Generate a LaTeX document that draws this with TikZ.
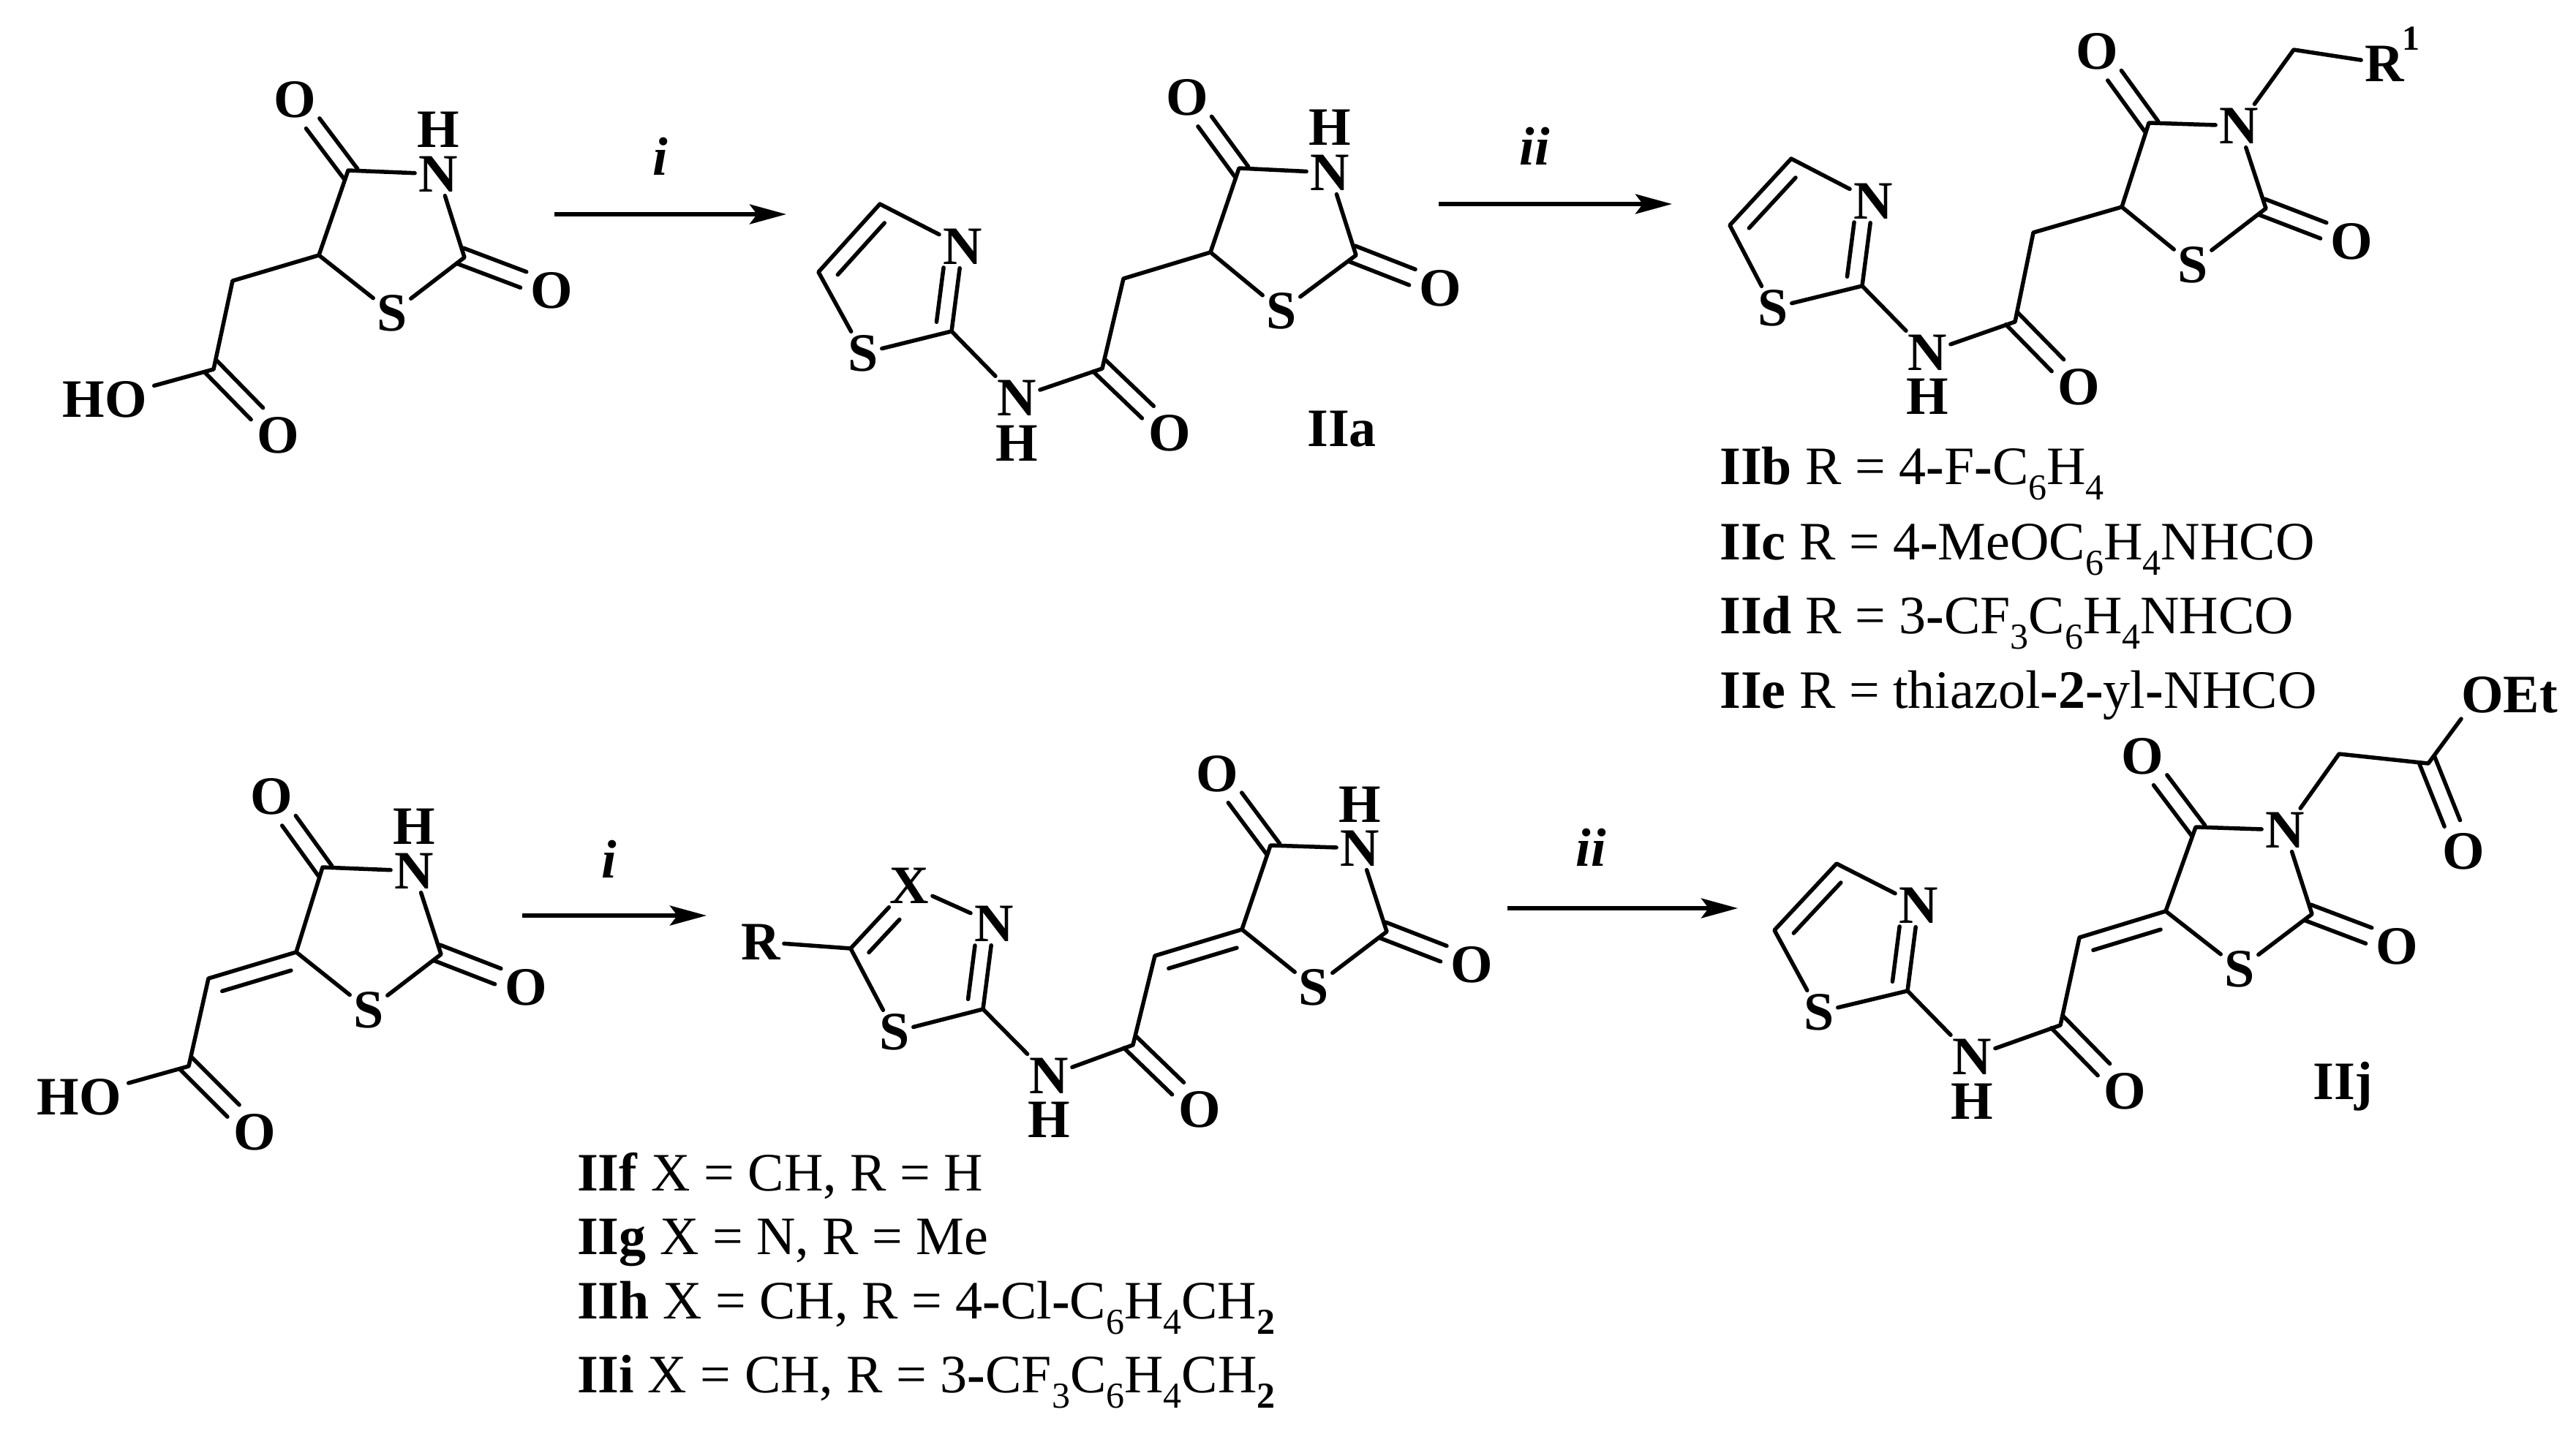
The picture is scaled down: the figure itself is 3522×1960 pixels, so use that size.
\documentclass[tikz,border=0pt]{standalone}
\usepackage{fontspec}
\setmainfont{Liberation Serif}
\usetikzlibrary{calc,arrows.meta}
\tikzset{
  bond/.style={line width=5.5pt,line cap=round,line join=round,black},
  rxn/.style={line width=5.5pt,black,-{Stealth[length=50pt,width=27pt,inset=10pt]}},
  atom/.style={font=\fontsize{74}{74}\selectfont\bfseries,inner sep=5pt,text height=49pt,text depth=0pt,anchor=center},
  atomw/.style={atom,inner xsep=10pt},
  supr/.style={font=\fontsize{48}{48}\selectfont\bfseries,inner sep=0pt,anchor=center},
  txt/.style={font=\fontsize{74}{74}\selectfont,inner sep=0pt,anchor=base west},
  reag/.style={font=\fontsize{74}{74}\selectfont\bfseries\itshape,inner sep=0pt,anchor=base},
}
\newcommand{\mysub}[1]{\raisebox{-21pt}{\fontsize{50}{50}\selectfont #1}}
% carbonyl double bond: two lines either side of the axis from carbon to oxygen
\newcommand{\cdbl}[2]{%
  \draw[bond,shorten <=-6pt,shorten >=41pt] ($(#1)!11.5pt!90:(#2)$) -- ($(#2)!11.5pt!-90:(#1)$);
  \draw[bond,shorten <=-6pt,shorten >=41pt] ($(#1)!11.5pt!-90:(#2)$) -- ($(#2)!11.5pt!90:(#1)$);
}
% second, inner line of a double bond: from, to, side, opposite side, shorten at both ends
\newcommand{\rdbl}[6]{%
  \draw[bond,shorten <=#5,shorten >=#6] ($(#1)!22pt!#3:(#2)$) -- ($(#2)!22pt!#4:(#1)$);
}
\begin{document}
\begin{tikzpicture}[x=1pt,y=-1pt]
\useasboundingbox[fill=white] (0,0) rectangle (3522,1960);

% ---------- acid 1
\node[atom] (aO4) at (403,136) {O};
\node[atom] (aN) at (599,238) {N};
\node[atom] (aH) at (599,177) {H};
\node[atom] (aO2) at (754,397) {O};
\node[atom] (aS) at (536,428) {S};
\node[atomw] (aHO) at (143,546) {HO};
\node[atom] (aO) at (380,595) {O};
\coordinate (aC4) at (476,233);
\coordinate (aC2) at (635,352);
\coordinate (aC5) at (436,349);
\coordinate (aCH) at (318,384);
\coordinate (aCO) at (292,505);
\draw[bond] (aC4) -- (aN) -- (aC2) -- (aS) -- (aC5) -- (aC4);
\draw[bond] (aC5) -- (aCH) -- (aCO) -- (aHO);
\cdbl{aC4}{aO4}
\cdbl{aC2}{aO2}
\cdbl{aCO}{aO}

% ---------- arrow i
\coordinate (r1s) at (758,293);
\coordinate (r1e) at (1075,293);
\draw[rxn] (r1s) -- (r1e);
\node[reag] (r1l) at (903,239) {i};

% ---------- IIa
\node[atom] (bS1) at (1180,483) {S};
\node[atom] (bN1) at (1316,337) {N};
\node[atom] (bNa) at (1390,544) {N};
\node[atom] (bHa) at (1390,606) {H};
\node[atom] (bOa) at (1599,592) {O};
\node[atom] (bS) at (1752,425) {S};
\node[atom] (bO2) at (1969,394) {O};
\node[atom] (bN) at (1818,236) {N};
\node[atom] (bH) at (1818,174) {H};
\node[atom] (bO4) at (1623,133) {O};
\coordinate (bC5t) at (1203,279);
\coordinate (bC4t) at (1119,372);
\coordinate (bC2t) at (1301,453);
\coordinate (bCO) at (1507,504);
\coordinate (bCH) at (1536,381);
\coordinate (bC5) at (1655,345);
\coordinate (bC2) at (1854,349);
\coordinate (bC4) at (1694,230);
\draw[bond] (bN1) -- (bC5t) -- (bC4t) -- (bS1) -- (bC2t) -- (bN1);
\rdbl{bC5t}{bC4t}{90}{-90}{15pt}{15pt}
\rdbl{bC2t}{bN1}{90}{-90}{10pt}{32pt}
\draw[bond] (bC2t) -- (bNa) -- (bCO) -- (bCH) -- (bC5);
\draw[bond] (bC5) -- (bS) -- (bC2) -- (bN) -- (bC4) -- (bC5);
\cdbl{bCO}{bOa}
\cdbl{bC2}{bO2}
\cdbl{bC4}{bO4}
\node[txt] (lIIa) at (1787,610) {\textbf{IIa}};

% ---------- arrow ii
\coordinate (r2s) at (1967,279);
\coordinate (r2e) at (2286,279);
\draw[rxn] (r2s) -- (r2e);
\node[reag] (r2l) at (2098,225) {ii};

% ---------- IIb-e
\node[atom] (cS1) at (2424,421) {S};
\node[atom] (cN1) at (2561,275) {N};
\node[atom] (cNa) at (2635,482) {N};
\node[atom] (cHa) at (2635,542) {H};
\node[atom] (cOa) at (2842,529) {O};
\node[atom] (cS) at (2998,362) {S};
\node[atom] (cO2) at (3215,330) {O};
\node[atom] (cN) at (3061,172) {N};
\node[atom] (cO4) at (2867,70) {O};
\node[atom] (cR) at (3260,87) {R};
\node[supr] (cR1) at (3296,53) {1};
\coordinate (cC5t) at (2449,217);
\coordinate (cC4t) at (2365,308);
\coordinate (cC2t) at (2546,391);
\coordinate (cCO) at (2755,440);
\coordinate (cCH) at (2780,318);
\coordinate (cC5) at (2901,283);
\coordinate (cC2) at (3098,285);
\coordinate (cC4) at (2938,168);
\coordinate (cCR) at (3136,68);
\draw[bond] (cN1) -- (cC5t) -- (cC4t) -- (cS1) -- (cC2t) -- (cN1);
\rdbl{cC5t}{cC4t}{90}{-90}{15pt}{15pt}
\rdbl{cC2t}{cN1}{90}{-90}{10pt}{32pt}
\draw[bond] (cC2t) -- (cNa) -- (cCO) -- (cCH) -- (cC5);
\draw[bond] (cC5) -- (cS) -- (cC2) -- (cN) -- (cC4) -- (cC5);
\draw[bond] (cN) -- (cCR) -- (cR);
\cdbl{cCO}{cOa}
\cdbl{cC2}{cO2}
\cdbl{cC4}{cO4}
\node[txt] (lIIb) at (2351,662) {\textbf{IIb} R = 4\textbf{-}F\textbf{-}C\mysub{6}H\mysub{4}};
\node[txt] (lIIc) at (2351,765) {\textbf{IIc} R = 4\textbf{-}MeOC\mysub{6}H\mysub{4}NHCO};
\node[txt] (lIId) at (2351,866) {\textbf{IId} R = 3\textbf{-}CF\mysub{3}C\mysub{6}H\mysub{4}NHCO};
\node[txt] (lIIe) at (2351,968) {\textbf{IIe} R = thiazol\textbf{-2-}yl\textbf{-}NHCO};

% ---------- acid 2
\node[atom] (dO4) at (371,1089) {O};
\node[atom] (dN) at (566,1191) {N};
\node[atom] (dH) at (566,1130) {H};
\node[atom] (dO2) at (719,1350) {O};
\node[atom] (dS) at (504,1381) {S};
\node[atomw] (dHO) at (108,1500) {HO};
\node[atom] (dO) at (348,1548) {O};
\coordinate (dC4) at (441,1186);
\coordinate (dC2) at (603,1305);
\coordinate (dC5) at (405,1302);
\coordinate (dCH) at (285,1338);
\coordinate (dCO) at (258,1458);
\draw[bond] (dC4) -- (dN) -- (dC2) -- (dS) -- (dC5) -- (dC4);
\draw[bond] (dC5) -- (dCH) -- (dCO) -- (dHO);
\rdbl{dC5}{dCH}{90}{-90}{14pt}{13pt}
\cdbl{dC4}{dO4}
\cdbl{dC2}{dO2}
\cdbl{dCO}{dO}

% ---------- arrow i (2)
\coordinate (r3s) at (714,1252);
\coordinate (r3e) at (966,1252);
\draw[rxn] (r3s) -- (r3e);
\node[reag] (r3l) at (833,1200) {i};

% ---------- IIf-i
\node[atom] (eR) at (1040,1288) {R};
\node[atom] (eX) at (1243,1211) {X};
\node[atom] (eN1) at (1359,1263) {N};
\node[atom] (eS1) at (1223,1411) {S};
\node[atom] (eNa) at (1434,1471) {N};
\node[atom] (eHa) at (1434,1531) {H};
\node[atom] (eOa) at (1640,1517) {O};
\node[atom] (eS) at (1796,1350) {S};
\node[atom] (eO2) at (2012,1319) {O};
\node[atom] (eN) at (1859,1160) {N};
\node[atom] (eH) at (1859,1100) {H};
\node[atom] (eO4) at (1664,1058) {O};
\coordinate (eC5t) at (1163,1297);
\coordinate (eC2t) at (1344,1380);
\coordinate (eCO) at (1549,1429);
\coordinate (eCH) at (1579,1307);
\coordinate (eC5) at (1698,1271);
\coordinate (eC2) at (1896,1274);
\coordinate (eC4) at (1737,1156);
\draw[bond] (eN1) -- (eX) -- (eC5t) -- (eS1) -- (eC2t) -- (eN1);
\draw[bond] (eR) -- (eC5t);
\rdbl{eC5t}{eX}{-90}{90}{13pt}{43pt}
\rdbl{eC2t}{eN1}{90}{-90}{11pt}{33pt}
\draw[bond] (eC2t) -- (eNa) -- (eCO) -- (eCH) -- (eC5);
\rdbl{eC5}{eCH}{90}{-90}{14pt}{13pt}
\draw[bond] (eC5) -- (eS) -- (eC2) -- (eN) -- (eC4) -- (eC5);
\cdbl{eCO}{eOa}
\cdbl{eC2}{eO2}
\cdbl{eC4}{eO4}
\node[txt] (lIIf) at (789,1628) {\textbf{IIf} X = CH, R = H};
\node[txt] (lIIg) at (789,1715) {\textbf{IIg} X = N, R = Me};
\node[txt] (lIIh) at (789,1803) {\textbf{IIh} X = CH, R = 4\textbf{-}Cl\textbf{-}C\mysub{6}H\mysub{4}CH\mysub{\textbf{2}}};
\node[txt] (lIIi) at (789,1904) {\textbf{IIi} X = CH, R = 3\textbf{-}CF\mysub{3}C\mysub{6}H\mysub{4}CH\mysub{\textbf{2}}};

% ---------- arrow ii (2)
\coordinate (r4s) at (2061,1242);
\coordinate (r4e) at (2376,1242);
\draw[rxn] (r4s) -- (r4e);
\node[reag] (r4l) at (2175,1184) {ii};

% ---------- IIj
\node[atom] (fS1) at (2487,1384) {S};
\node[atom] (fN1) at (2623,1238) {N};
\node[atom] (fNa) at (2696,1445) {N};
\node[atom] (fHa) at (2696,1506) {H};
\node[atom] (fOa) at (2905,1492) {O};
\node[atom] (fS) at (3062,1325) {S};
\node[atom] (fO2) at (3277,1294) {O};
\node[atom] (fN) at (3124,1135) {N};
\node[atom] (fO4) at (2929,1034) {O};
\node[atom] (fOb) at (3368,1164) {O};
\node[atom] (fOEt) at (3431,950) {OEt};
\coordinate (fC5t) at (2511,1181);
\coordinate (fC4t) at (2426,1272);
\coordinate (fC2t) at (2608,1355);
\coordinate (fCO) at (2817,1402);
\coordinate (fCH) at (2843,1282);
\coordinate (fC5) at (2961,1246);
\coordinate (fC2) at (3161,1250);
\coordinate (fC4) at (3002,1131);
\coordinate (fCH2) at (3198,1031);
\coordinate (fCE) at (3320,1044);
\coordinate (fOe) at (3365,983);
\draw[bond] (fN1) -- (fC5t) -- (fC4t) -- (fS1) -- (fC2t) -- (fN1);
\rdbl{fC5t}{fC4t}{90}{-90}{15pt}{15pt}
\rdbl{fC2t}{fN1}{90}{-90}{10pt}{32pt}
\draw[bond] (fC2t) -- (fNa) -- (fCO) -- (fCH) -- (fC5);
\rdbl{fC5}{fCH}{90}{-90}{14pt}{13pt}
\draw[bond] (fC5) -- (fS) -- (fC2) -- (fN) -- (fC4) -- (fC5);
\draw[bond] (fN) -- (fCH2) -- (fCE) -- (fOe);
\cdbl{fCO}{fOa}
\cdbl{fC2}{fO2}
\cdbl{fC4}{fO4}
\cdbl{fCE}{fOb}
\node[txt] (lIIj) at (3162,1503) {\textbf{IIj}};
\end{tikzpicture}
\end{document}
